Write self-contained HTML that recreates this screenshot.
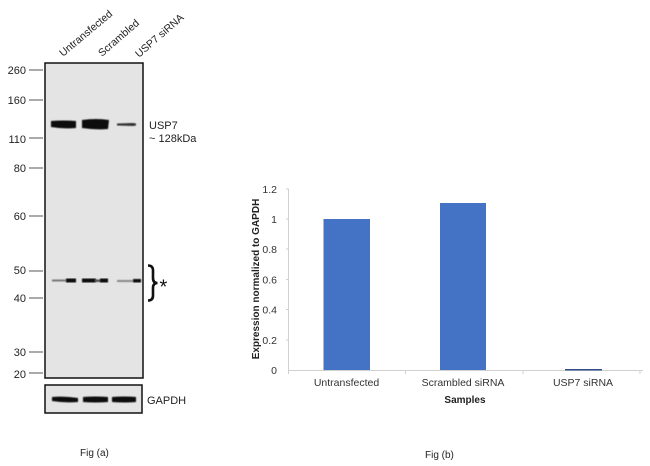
<!DOCTYPE html>
<html><head><meta charset="utf-8"><style>
html,body{margin:0;padding:0;background:#fff;}
svg{display:block;font-family:"Liberation Sans",Arial,sans-serif;}
</style></head><body>
<svg width="650" height="466" viewBox="0 0 650 466" xmlns="http://www.w3.org/2000/svg">
<defs>
<filter id="blur"><feGaussianBlur stdDeviation="0.6"/></filter>
</defs>
<!-- lane labels -->
<g font-size="10.5" fill="#222">
<text transform="translate(63,57) rotate(-40)">Untransfected</text>
<text transform="translate(102,57) rotate(-41)">Scrambled</text>
<text transform="translate(139,58) rotate(-41)">USP7 siRNA</text>
</g>
<!-- blot frame -->
<rect x="45" y="63" width="98" height="315" fill="#e4e4e4" stroke="#111" stroke-width="1.5"/>
<!-- MW ticks -->
<g stroke="#555" stroke-width="1">
<line x1="29" y1="70" x2="43" y2="70"/>
<line x1="29" y1="100" x2="43" y2="100"/>
<line x1="29" y1="138" x2="43" y2="138"/>
<line x1="29" y1="168" x2="43" y2="168"/>
<line x1="29" y1="216" x2="43" y2="216"/>
<line x1="29" y1="271" x2="43" y2="271"/>
<line x1="29" y1="298" x2="43" y2="298"/>
<line x1="29" y1="352" x2="43" y2="352"/>
<line x1="29" y1="373" x2="43" y2="373"/>
</g>
<g font-size="11" fill="#222" text-anchor="end">
<text x="26" y="74">260</text>
<text x="26" y="104">160</text>
<text x="26" y="143">110</text>
<text x="26" y="172">80</text>
<text x="26" y="220">60</text>
<text x="26" y="274">50</text>
<text x="26" y="302">40</text>
<text x="26" y="356">30</text>
<text x="26" y="378">20</text>
</g>
<!-- USP7 bands -->
<g fill="#0a0a0a" filter="url(#blur)">
<path d="M51,121 Q63,120 76,121 L76,128 Q63,129 51,127 Z"/>
<path d="M82,120 Q96,118 109,120 L108,129 Q96,130 82,128 Z"/>
<path d="M117,123.5 L133,123 L136,123.5 L136,125.5 L133,126 L117,125.5 Z" fill="#333"/>
</g>
<!-- 45 kDa bands -->
<g filter="url(#blur)">
<rect x="52" y="279.5" width="16" height="2" fill="#777"/>
<rect x="66" y="278.5" width="10" height="4" fill="#111"/>
<rect x="82" y="278.5" width="14" height="4" fill="#111"/>
<rect x="95" y="279.5" width="6" height="2.5" fill="#555"/>
<rect x="100" y="278.5" width="8" height="4" fill="#111"/>
<rect x="117" y="280" width="16" height="2" fill="#888"/>
<rect x="133" y="279" width="8" height="3.5" fill="#111"/>
</g>
<!-- brace -->
<path d="M148,265.5 Q153,265.5 153,270.5 L153,278 Q153,283 157.5,283 Q153,283 153,288 L153,295.5 Q153,300.5 148,300.5" fill="none" stroke="#111" stroke-width="2.6"/>
<text x="159.5" y="293.5" font-size="20" fill="#111">*</text>
<!-- USP7 label -->
<g font-size="11" fill="#222">
<text x="149" y="129">USP7</text>
<text x="149" y="142">~ 128kDa</text>
<text x="147" y="404">GAPDH</text>
</g>
<!-- GAPDH box -->
<rect x="45" y="385" width="97" height="28" fill="#e4e4e4" stroke="#111" stroke-width="1.5"/>
<g fill="#0a0a0a" filter="url(#blur)">
<path d="M52,397 Q65,396 78,398 L78,402 Q65,403 52,401 Z"/>
<path d="M83,397 Q95,396 108,397 L108,402 Q95,403 83,402 Z"/>
<path d="M112,397 Q124,396 136,397 L136,402 Q124,403 112,402 Z"/>
</g>
<text x="80" y="456" font-size="10" fill="#222">Fig (a)</text>

<!-- bar chart -->
<line x1="288.5" y1="189" x2="288.5" y2="370" stroke="#d0d0d0" stroke-width="1"/>
<g stroke="#d0d0d0" stroke-width="1">
<line x1="286" y1="189" x2="289" y2="189"/>
<line x1="286" y1="219" x2="289" y2="219"/>
<line x1="286" y1="249" x2="289" y2="249"/>
<line x1="286" y1="279.5" x2="289" y2="279.5"/>
<line x1="286" y1="309.5" x2="289" y2="309.5"/>
<line x1="286" y1="340" x2="289" y2="340"/>
<line x1="288" y1="370.5" x2="643" y2="370.5"/>
<line x1="288.5" y1="370" x2="288.5" y2="374"/>
<line x1="405.5" y1="370" x2="405.5" y2="374"/>
<line x1="523" y1="370" x2="523" y2="374"/>
<line x1="640" y1="370" x2="640" y2="374"/>
</g>
<g font-size="10.5" fill="#333" text-anchor="end">
<text x="277" y="193">1.2</text>
<text x="277" y="223">1</text>
<text x="277" y="253">0.8</text>
<text x="277" y="283.5">0.6</text>
<text x="277" y="313.5">0.4</text>
<text x="277" y="344">0.2</text>
<text x="277" y="374">0</text>
</g>
<rect x="323.5" y="219" width="46.5" height="151" fill="#4472c4"/>
<rect x="440" y="203" width="46" height="167" fill="#4472c4"/>
<rect x="565" y="369" width="37" height="1.5" fill="#2f4f8a"/>
<g font-size="10.5" fill="#333" text-anchor="middle">
<text x="346.5" y="386">Untransfected</text>
<text x="463" y="386">Scrambled siRNA</text>
<text x="583" y="386">USP7 siRNA</text>
</g>
<text x="465" y="403" font-size="10" font-weight="bold" fill="#222" text-anchor="middle">Samples</text>
<text transform="translate(259,279) rotate(-90)" font-size="10" font-weight="bold" fill="#222" text-anchor="middle">Expression  normalized to GAPDH</text>
<text x="425" y="458" font-size="10" fill="#222">Fig (b)</text>
</svg>
</body></html>
